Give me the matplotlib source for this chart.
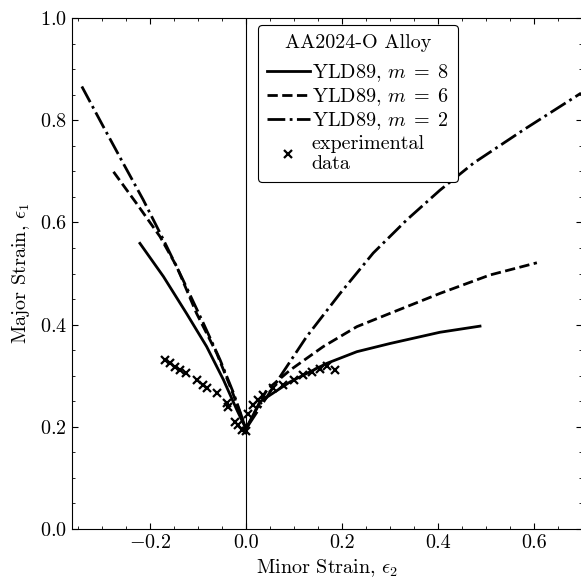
import numpy as np
import matplotlib
matplotlib.use('Agg')
import matplotlib.pyplot as plt
from matplotlib.ticker import MultipleLocator

plt.rcParams['font.family'] = 'serif'
plt.rcParams['font.serif'] = ['cmr10']
plt.rcParams['mathtext.fontset'] = 'cm'
plt.rcParams['axes.formatter.use_mathtext'] = True
plt.rcParams['font.size'] = 14.5

# Yld89, m = 8 (minor strain, major strain)
eps2_m8 = [-0.221, -0.172, -0.124, -0.082, -0.047, -0.019, 0.0,
           0.029, 0.092, 0.168, 0.231, 0.30, 0.404, 0.4875]
eps1_m8 = [0.559, 0.494, 0.422, 0.357, 0.292, 0.233, 0.196,
           0.249, 0.288, 0.324, 0.347, 0.363, 0.385, 0.397]

# Yld89, m = 6
eps2_m6 = [-0.276, -0.228, -0.179, -0.144, -0.103, -0.061, -0.030, 0.0,
           0.043, 0.092, 0.161, 0.231, 0.30, 0.404, 0.508, 0.606]
eps1_m6 = [0.699, 0.637, 0.572, 0.513, 0.422, 0.344, 0.272, 0.196,
           0.272, 0.311, 0.357, 0.396, 0.422, 0.461, 0.497, 0.521]

# Yld89, m = 2
eps2_m2 = [-0.342, -0.297, -0.256, -0.214, -0.172, -0.131, -0.089, -0.054, -0.026, 0.0,
           0.071, 0.126, 0.196, 0.265, 0.335, 0.404, 0.474, 0.578, 0.698]
eps1_m2 = [0.866, 0.787, 0.716, 0.644, 0.566, 0.487, 0.403, 0.331, 0.266, 0.196,
           0.298, 0.376, 0.461, 0.540, 0.605, 0.663, 0.716, 0.781, 0.853]

# experimental data
exp_eps2 = [-0.169, -0.158, -0.148, -0.1375, -0.124, -0.103, -0.089, -0.082, -0.061, -0.040,
            -0.037, -0.023, -0.016, -0.009, 0.0, 0.005, 0.015, 0.026, 0.036, 0.057, 0.078,
            0.099, 0.119, 0.137, 0.154, 0.168, 0.185]
exp_eps1 = [0.331, 0.324, 0.318, 0.311, 0.305, 0.292, 0.282, 0.275, 0.266, 0.246,
            0.239, 0.210, 0.204, 0.194, 0.192, 0.226, 0.243, 0.252, 0.262, 0.275, 0.282,
            0.292, 0.301, 0.308, 0.314, 0.319, 0.311]

fig = plt.figure(figsize=(5.81, 5.82), dpi=100)
ax = fig.add_axes([72/581, 53/582, 510/581, 511/582])

ax.axvline(0, color='k', lw=0.8, zorder=1)
ax.plot(eps2_m8, eps1_m8, 'k-', lw=2, label=r'YLD89, $m\;=\;8$')
ax.plot(eps2_m6, eps1_m6, 'k--', lw=2, label=r'YLD89, $m\;=\;6$')
ax.plot(eps2_m2, eps1_m2, 'k-.', lw=2, label=r'YLD89, $m\;=\;2$')
ax.plot(exp_eps2, exp_eps1, 'kx', ms=6, mew=1.6, label='experimental\ndata')

ax.set_xlim(-0.3625, 0.7)
ax.set_ylim(0, 1.0)
ax.xaxis.set_minor_locator(MultipleLocator(0.05))
ax.yaxis.set_major_locator(MultipleLocator(0.2))
ax.yaxis.set_minor_locator(MultipleLocator(0.05))
ax.tick_params(which='both', direction='in', top=True, right=True)
ax.tick_params(which='major', length=4)
ax.tick_params(which='minor', length=2)
ax.set_xticks([-0.2, 0.0, 0.2, 0.4, 0.6])
ax.set_xticklabels([r'$-0.2$', '0.0', '0.2', '0.4', '0.6'])

ax.set_xlabel(r'Minor Strain, $\epsilon_2$')
ax.set_ylabel(r'Major Strain, $\epsilon_1$', labelpad=6)

leg = ax.legend(title='AA2024-O Alloy', loc='upper left', bbox_to_anchor=(0.365, 0.986),
                borderaxespad=0, fancybox=True, framealpha=1, edgecolor='k',
                handlelength=2.1, handletextpad=0.1, borderpad=0.45, labelspacing=0.12)
leg.get_frame().set_linewidth(0.8)
leg._legend_box.sep = 7  # a bit more room under the title

fig.savefig('out.png', dpi=100)
